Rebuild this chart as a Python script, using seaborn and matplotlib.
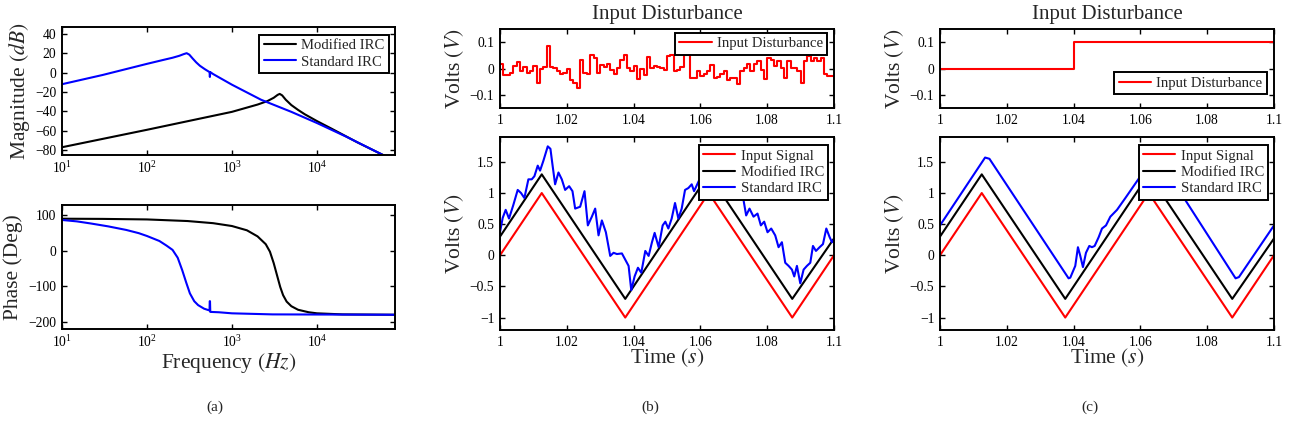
import numpy as np
import matplotlib
matplotlib.use('Agg')
import matplotlib.pyplot as plt
from matplotlib.ticker import FuncFormatter, NullLocator, FixedLocator
import seaborn as sns

# ---- values ----
# (a) Bode: magnitude (dB) and phase (deg)
freq_std_mag = [10, 30, 100, 160, 200, 240, 270, 293, 315, 345, 380, 420, 480, 545, 550, 556,
                600, 1000, 2200, 5000, 10000, 22000, 60000, 83000]
mag_std = [-12, -2.5, 9, 13.3, 15.3, 17.3, 19, 20, 18.5, 14.5, 10.5, 7, 3.5, 0.5, -4.5, 0.5,
           -1.5, -12.5, -28, -40.5, -52, -66, -85, -91]
freq_mod_mag = [10, 100, 1000, 2000, 2600, 3100, 3450, 3650, 3900, 4300, 5000, 6000, 7200,
                10000, 15000, 30000, 60000, 83000]
mag_mod = [-77, -59, -40.5, -33, -29.5, -26, -23, -22, -23.5, -28, -33.5, -38.5, -43,
           -50, -58, -72, -85, -91]

freq_std_ph = [10, 15, 22, 35, 57, 80, 100, 140, 170, 200, 230, 260, 290, 320, 360, 400,
               470, 545, 548, 552, 556, 700, 1000, 3000, 83000]
ph_std = [86, 82, 76, 68, 58, 49, 41, 27, 14, 2, -20, -55, -90, -120, -142, -153,
          -163, -168, -142, -142, -172, -173, -176, -179, -180]
freq_mod_ph = [10, 30, 100, 300, 600, 1000, 1500, 2000, 2500, 2800, 3100, 3400, 3700,
               4000, 4400, 5000, 6000, 8000, 10000, 20000, 83000]
ph_mod = [89.5, 89, 87.5, 83, 77, 69, 57, 40, 18, -3, -35, -70, -102,
          -125, -143, -156, -166, -173, -176, -179, -180]

# (b)/(c) time responses
t_tri = [1.0, 1.0125, 1.0375, 1.0625, 1.0875, 1.1]
input_signal = [0, 1, -1, 1, -1, 0]
modified_irc = [0.3, 1.3, -0.7, 1.3, -0.7, 0.27]

# (b) random input disturbance, 1 ms steps
dist_b = [0.018, -0.025, -0.025, -0.016, 0.01, 0.025, -0.008, 0.005, -0.016, -0.01,
          0.008, -0.054, 0.0, 0.005, 0.085, 0.005, 0.002, -0.01, -0.022, -0.016,
          0.0, -0.045, -0.054, -0.075, 0.034, -0.016, -0.02, 0.052, 0.038, -0.016,
          0.015, 0.005, 0.018, -0.004, -0.022, 0.002, 0.034, 0.052, 0.002, -0.01,
          0.008, -0.041, 0.0, -0.025, 0.045, 0.002, 0.008, 0.005, 0.002, -0.004,
          0.046, 0.05, -0.01, -0.004, 0.005, 0.05, 0.05, -0.035, -0.035, -0.01,
          -0.029, -0.02, -0.01, 0.015, -0.035, -0.032, -0.022, -0.01, -0.045, -0.035,
          -0.035, -0.06, -0.01, 0.002, 0.018, -0.01, 0.018, 0.028, -0.004, -0.041,
          0.04, 0.034, 0.008, 0.028, 0.002, -0.035, 0.028, 0.002, 0.002, -0.008,
          -0.054, 0.028, 0.046, 0.028, 0.04, 0.028, 0.04, -0.022, -0.029, -0.03, -0.03]
t_dist_b = 1 + 0.001 * np.arange(len(dist_b))

t_std_b = [1.0, 1.0008, 1.0017, 1.0027, 1.004, 1.0053, 1.0063, 1.0073, 1.0085, 1.0095,
           1.0103, 1.0113, 1.012, 1.013, 1.0143, 1.0151, 1.0157, 1.0165, 1.0175, 1.0185,
           1.0195, 1.0207, 1.0217, 1.0225, 1.024, 1.0253, 1.0263, 1.0275, 1.0285, 1.0295,
           1.0305, 1.0317, 1.033, 1.034, 1.035, 1.0365, 1.0375, 1.0385, 1.0393, 1.0403,
           1.0413, 1.0423, 1.0435, 1.0445, 1.0455, 1.0463, 1.0475, 1.0487, 1.0495, 1.0504,
           1.0514, 1.0524, 1.0534, 1.0544, 1.0554, 1.0564, 1.0574, 1.0581, 1.060, 1.062,
           1.0635, 1.065, 1.067, 1.069, 1.071, 1.0729, 1.0737, 1.0747, 1.0759, 1.0771,
           1.0781, 1.0791, 1.0801, 1.0812, 1.0824, 1.0834, 1.0844, 1.0854, 1.0864, 1.0874,
           1.0881, 1.0889, 1.0899, 1.0909, 1.0919, 1.0929, 1.0937, 1.0946, 1.0957, 1.0967,
           1.0977, 1.0987, 1.0994, 1.1]
std_b = [0.37, 0.6, 0.73, 0.59, 0.81, 1.05, 1.0, 0.92, 1.22, 1.22,
         1.27, 1.44, 1.36, 1.52, 1.75, 1.71, 1.46, 1.14, 1.33, 1.22,
         1.05, 1.11, 1.03, 0.75, 0.78, 1.03, 0.48, 0.62, 0.75, 0.32,
         0.56, 0.37, -0.01, 0.04, 0.02, 0.03, -0.07, -0.17, -0.56, -0.34,
         -0.2, -0.28, 0.07, -0.01, 0.21, 0.36, 0.13, 0.48, 0.54, 0.43,
         0.59, 0.84, 0.59, 0.75, 1.05, 1.08, 1.14, 1.03, 1.25, 1.35,
         1.3, 1.4, 1.15, 1.2, 0.95, 0.89, 0.64, 0.75, 0.62, 0.67,
         0.48, 0.54, 0.37, 0.43, 0.32, 0.13, 0.21, -0.12, -0.17, -0.23,
         -0.34, -0.17, -0.45, -0.23, -0.17, -0.12, 0.15, 0.07, 0.13, 0.18,
         0.43, 0.29, 0.21, 0.25]

# (c) step disturbance
t_dist_c = [1.0, 1.04, 1.1]
dist_c = [0.0, 0.1, 0.1]
t_std_c = [1.0, 1.0135, 1.0148, 1.0385, 1.039, 1.0405, 1.0413, 1.042, 1.0428, 1.0437,
           1.0447, 1.0455, 1.0463, 1.0475, 1.0485, 1.0497, 1.051, 1.053, 1.0555, 1.064,
           1.0655, 1.0885, 1.0895, 1.1]
std_c = [0.48, 1.57, 1.55, -0.37, -0.36, -0.17, 0.13, -0.01, -0.19, 0.04,
         0.15, 0.13, 0.15, 0.29, 0.43, 0.48, 0.62, 0.73, 0.92, 1.58,
         1.55, -0.37, -0.35, 0.48]

# ---- style ----
sns.set_style('ticks')
plt.rcParams['font.family'] = ['Liberation Serif', 'DejaVu Serif']
plt.rcParams['mathtext.fontset'] = 'stix'
plt.rcParams['axes.linewidth'] = 1.4
plt.rcParams['axes.edgecolor'] = 'black'

LW = 1.5
TICK = 9.8
LAB = 15.5
LEG = 10.6


def fmt(v, pos):
    return ('%g' % v).replace('-', '\u2212')


def style_ax(ax):
    ax.tick_params(direction='in', top=True, right=True, length=3.5, width=1,
                   labelsize=TICK, colors='black', pad=4)
    for s in ax.spines.values():
        s.set_linewidth(1.4)
        s.set_color('black')


def legend(ax, loc, anchor):
    leg = ax.legend(loc=loc, bbox_to_anchor=anchor, borderaxespad=0, fontsize=LEG,
                    fancybox=False, framealpha=1, edgecolor='black', borderpad=0.3,
                    labelspacing=0.2, handlelength=2.2, handletextpad=0.35)
    leg.get_frame().set_linewidth(1.4)


fig = plt.figure(figsize=(12.89, 4.38), dpi=100)
W, H = 1289, 438


def add_ax(x0, y0, x1, y1):
    return fig.add_axes([x0 / W, 1 - y1 / H, (x1 - x0) / W, (y1 - y0) / H])


# (a) magnitude
ax = add_ax(62, 27, 395, 155)
sns.lineplot(x=freq_mod_mag, y=mag_mod, ax=ax, color='black', lw=LW, label='Modified IRC')
sns.lineplot(x=freq_std_mag, y=mag_std, ax=ax, color='blue', lw=LW, label='Standard IRC')
ax.set_xscale('log')
ax.set_xlim(10, 83000)
ax.set_ylim(-85, 47)
ax.set_xticks([10, 100, 1000, 10000])
ax.xaxis.set_minor_locator(NullLocator())
ax.set_yticks([-80, -60, -40, -20, 0, 20, 40])
ax.yaxis.set_major_formatter(FuncFormatter(fmt))
style_ax(ax)
ax.set_ylabel('Magnitude $(dB)$', fontsize=LAB)
ax.yaxis.set_label_coords(-0.09, 0.5)
legend(ax, 'upper right', (0.982, 0.94))

# (a) phase
ax = add_ax(62, 205, 395, 329)
sns.lineplot(x=freq_mod_ph, y=ph_mod, ax=ax, color='black', lw=LW, legend=False)
sns.lineplot(x=freq_std_ph, y=ph_std, ax=ax, color='blue', lw=LW, legend=False)
ax.set_xscale('log')
ax.set_xlim(10, 83000)
ax.set_ylim(-220, 128)
ax.set_xticks([10, 100, 1000, 10000])
ax.xaxis.set_minor_locator(NullLocator())
ax.set_yticks([-200, -100, 0, 100])
ax.yaxis.set_major_formatter(FuncFormatter(fmt))
style_ax(ax)
ax.set_ylabel('Phase (Deg)', fontsize=LAB)
ax.yaxis.set_label_coords(-0.117, 0.5)
ax.set_xlabel('Frequency $(Hz)$', fontsize=LAB)
ax.xaxis.set_label_coords(0.5, -0.175)

# (b) and (c)
panels = [(500, t_dist_b, dist_b, t_std_b, std_b, ('upper right', (0.98, 0.953))),
          (940, t_dist_c, dist_c, t_std_c, std_c, ('lower right', (0.979, 0.173)))]
for x0, td, dv, ts, sv, legpos in panels:
    ax = add_ax(x0, 29, x0 + 334, 108)
    sns.lineplot(x=td, y=dv, ax=ax, color='red', lw=LW, drawstyle='steps-post',
                 label='Input Disturbance')
    ax.set_xlim(1, 1.1)
    ax.set_ylim(-0.15, 0.15)
    ax.xaxis.set_major_locator(FixedLocator([1, 1.02, 1.04, 1.06, 1.08, 1.1]))
    ax.set_yticks([-0.1, 0, 0.1])
    ax.xaxis.set_major_formatter(FuncFormatter(fmt))
    ax.yaxis.set_major_formatter(FuncFormatter(fmt))
    style_ax(ax)
    ax.set_title('Input Disturbance', fontsize=15, pad=7)
    ax.set_ylabel('Volts $(V)$', fontsize=LAB)
    ax.yaxis.set_label_coords(-0.103, 0.5)
    legend(ax, legpos[0], legpos[1])

    ax = add_ax(x0, 137, x0 + 334, 330)
    sns.lineplot(x=t_tri, y=input_signal, ax=ax, color='red', lw=LW, label='Input Signal')
    sns.lineplot(x=t_tri, y=modified_irc, ax=ax, color='black', lw=LW, label='Modified IRC')
    sns.lineplot(x=ts, y=sv, ax=ax, color='blue', lw=LW, label='Standard IRC')
    ax.set_xlim(1, 1.1)
    ax.set_ylim(-1.2, 1.9)
    ax.xaxis.set_major_locator(FixedLocator([1, 1.02, 1.04, 1.06, 1.08, 1.1]))
    ax.set_yticks([-1, -0.5, 0, 0.5, 1, 1.5])
    ax.xaxis.set_major_formatter(FuncFormatter(fmt))
    ax.yaxis.set_major_formatter(FuncFormatter(fmt))
    style_ax(ax)
    ax.set_ylabel('Volts $(V)$', fontsize=LAB)
    ax.yaxis.set_label_coords(-0.103, 0.5)
    ax.set_xlabel('Time $(s)$', fontsize=LAB)
    ax.xaxis.set_label_coords(0.5, -0.085)
    legend(ax, 'upper right', (0.983, 0.959))

for x, s in [(215, '(a)'), (650, '(b)'), (1090, '(c)')]:
    fig.text(x / W, 1 - 407 / H, s, ha='center', va='center', fontsize=11)

fig.savefig('out.png', dpi=100, facecolor='white')
